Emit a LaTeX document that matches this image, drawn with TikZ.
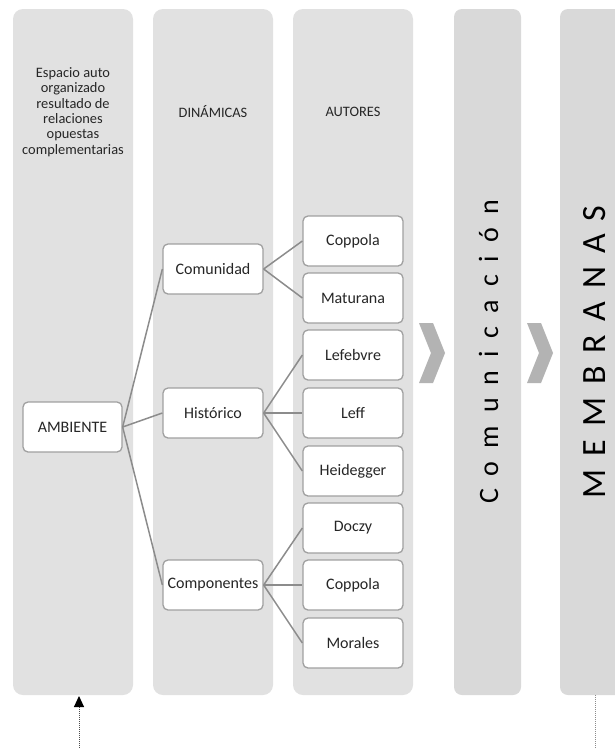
\documentclass[tikz,border=0pt]{standalone}
\usepackage{fontspec}
\setmainfont{Carlito}
\usetikzlibrary{arrows.meta}
\definecolor{panelA}{HTML}{E1E1E1}
\definecolor{panelB}{HTML}{D9D9D9}
\definecolor{chevc}{HTML}{B3B3B3}
\definecolor{boxline}{HTML}{A0A0A0}
\definecolor{conn}{HTML}{8C8C8C}
\definecolor{txt}{HTML}{262626}
\begin{document}
\begin{tikzpicture}[x=1pt,y=-1pt,
 panel/.style={fill=panelA, draw=none, rounded corners=10pt, minimum width=120pt, minimum height=686pt, inner sep=0pt},
 panelb/.style={panel, fill=panelB, minimum width=67pt, rounded corners=8pt},
 header/.style={font=\fontsize{14.4}{15.3}\selectfont, text=txt, align=center, inner sep=0pt},
 itembox/.style={draw=boxline, line width=1.3pt, fill=white, rounded corners=5pt, minimum width=100pt, minimum height=50pt, inner sep=1pt, font=\fontsize{16}{19}\selectfont, text=txt},
 link/.style={draw=conn, line width=1.5pt},
 chev/.style={fill=chevc},
 vtext/.style={rotate=90, anchor=base, inner sep=0pt, text=black}
]
\useasboundingbox (0,0) rectangle (615,748);
\clip (0,0) rectangle (615,748);
\fill[white] (0,0) rectangle (615,748);

% panels
\node[panel] (p1) at (73,352) {};
\node[panel] (p2) at (213,352) {};
\node[panel] (p3) at (353,352) {};
\node[panelb] (p4) at (487.5,352) {};
\node[panelb, minimum width=70pt] (p5) at (595,352) {};

% headers
\node[header] (h1) at (73,112) {Espacio auto\\organizado\\resultado de\\relaciones\\opuestas\\complementarias};
\node[header] (h2) at (213,112) {DINÁMICAS};
\node[header] (h3) at (353,112) {AUTORES};

% boxes
\node[itembox, minimum width=99pt] (amb) at (72.5,427) {AMBIENTE};
\node[itembox] (com) at (213,269) {Comunidad};
\node[itembox] (his) at (213,413) {Histórico};
\node[itembox] (cmp) at (213,585) {Componentes};

\node[itembox] (a1) at (353,241) {Coppola};
\node[itembox] (a2) at (353,298) {Maturana};
\node[itembox] (a3) at (353,355) {Lefebvre};
\node[itembox] (a4) at (353,413) {Leff};
\node[itembox] (a5) at (353,471) {Heidegger};
\node[itembox] (a6) at (353,528) {Doczy};
\node[itembox] (a7) at (353,585) {Coppola};
\node[itembox] (a8) at (353,643) {Morales};

% connectors
\draw[link] (amb.east) -- (com.west);
\draw[link] (amb.east) -- (his.west);
\draw[link] (amb.east) -- (cmp.west);
\draw[link] (com.east) -- (a1.west);
\draw[link] (com.east) -- (a2.west);
\draw[link] (his.east) -- (a3.west);
\draw[link] (his.east) -- (a4.west);
\draw[link] (his.east) -- (a5.west);
\draw[link] (cmp.east) -- (a6.west);
\draw[link] (cmp.east) -- (a7.west);
\draw[link] (cmp.east) -- (a8.west);

% chevrons
\fill[chev] (419,323) -- (433,323) -- (445,353) -- (433,383) -- (419,383) -- (431,353) -- cycle;
\fill[chev] (527,323) -- (541,323) -- (553,353) -- (541,383) -- (527,383) -- (539,353) -- cycle;

% vertical texts
\node[vtext, font=\fontsize{28}{30}\selectfont] (comm) at (498,352) {\spaceskip=13pt\relax C o m u n i c a c i ó n};
\node[vtext, font=\fontsize{34}{36}\selectfont] (memb) at (605,352) {\spaceskip=13pt\relax M E M B R A N A S};

% bottom dotted connectors
\coordinate (abot) at (79,748);
\coordinate (atop) at (79,696);
\draw[densely dotted, draw=black!70, line width=1pt, -{Triangle[width=10pt,length=11pt,color=black]}] (abot) -- (atop);
\coordinate (rtop) at (595,695);
\coordinate (rbot) at (595,748);
\draw[densely dotted, draw=black!45, line width=1pt] (rtop) -- (rbot);
\end{tikzpicture}
\end{document}
